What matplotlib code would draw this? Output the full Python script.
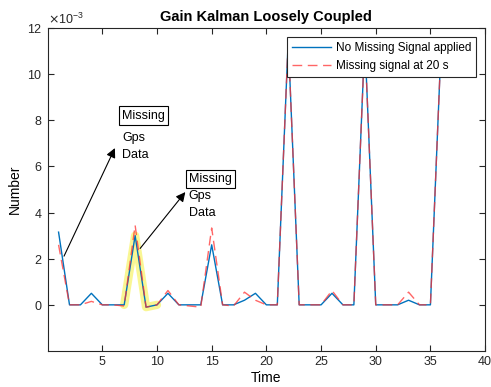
import matplotlib.pyplot as plt
from matplotlib.ticker import ScalarFormatter

plt.rcParams['font.family'] = ['Liberation Sans', 'DejaVu Sans']

# Dữ liệu (đơn vị 1e-3)
t = list(range(1, 37))
no_missing = [3.15, 0, 0, 0.5, 0, 0, 0, 3.0, -0.1, 0, 0.5, 0, 0, 0, 2.6, 0, 0, 0.2,
              0.5, 0, 0, 11.5, 0, 0, 0, 0.5, 0, 0, 11.5, 0, 0, 0, 0.2, 0, 0, 11.5]
missing_20 = [2.6, 0, 0, 0.15, 0, 0, -0.05, 3.45, -0.1, 0, 0.62, 0, -0.05, -0.1, 3.33, 0, -0.05, 0.55,
              0.2, 0, 0, 11.5, 0, 0, 0, 0.62, 0, 0, 11.5, 0, 0, 0, 0.55, 0, 0, 11.5]
hl_t = [7, 8, 9, 10]
hl_v = [0, 3.0, -0.1, 0]

fig = plt.figure(figsize=(4.91, 3.87), dpi=100)
ax = fig.add_axes([0.097, 0.093, 0.891, 0.835])

ax.plot(hl_t, [v * 1e-3 for v in hl_v], color='#F5F03A', linewidth=6, alpha=0.55,
        solid_capstyle='round', solid_joinstyle='round')
ax.plot(t, [v * 1e-3 for v in no_missing], color='#0072BD', linewidth=1,
        label='No Missing Signal applied')
ax.plot(t, [v * 1e-3 for v in missing_20], color='#FF3333', linewidth=1,
        linestyle=(0, (7, 4)), alpha=0.75, label='Missing signal at 20 s')

# Chú thích "Missing Gps Data"
ax.annotate('', xy=(6.26, 6.9e-3), xytext=(1.39, 2.0e-3),
            arrowprops=dict(arrowstyle='-|>', color='black', lw=0.8, mutation_scale=14))
ax.annotate('', xy=(12.75, 4.98e-3), xytext=(8.3, 2.35e-3),
            arrowprops=dict(arrowstyle='-|>', color='black', lw=0.8, mutation_scale=14))
box = dict(boxstyle='square,pad=0.25', fc='white', ec='black', lw=0.8)
ax.text(6.8, 8.2e-3, 'Missing', fontsize=9, va='center', bbox=box)
ax.text(6.8, 7.23e-3, 'Gps', fontsize=9, va='center')
ax.text(6.8, 6.49e-3, 'Data', fontsize=9, va='center')
ax.text(12.9, 5.45e-3, 'Missing', fontsize=9, va='center', bbox=box)
ax.text(12.9, 4.72e-3, 'Gps', fontsize=9, va='center')
ax.text(12.9, 3.98e-3, 'Data', fontsize=9, va='center')

ax.set_xlim(0, 40)
ax.set_ylim(-2e-3, 12e-3)
ax.set_xticks(range(5, 41, 5))
ax.set_yticks([i * 1e-3 for i in range(0, 13, 2)])
fmt = ScalarFormatter(useMathText=True)
fmt.set_powerlimits((-3, -3))
ax.yaxis.set_major_formatter(fmt)
ax.tick_params(direction='in', top=True, right=True, labelsize=9, colors='#262626', length=4)
for s in ax.spines.values():
    s.set_color('#262626')
ax.yaxis.get_offset_text().set_fontsize(9)

ax.set_title('Gain Kalman Loosely Coupled', fontsize=10.5, fontweight='bold', pad=5)
ax.set_xlabel('Time', fontsize=10, labelpad=2)
ax.set_ylabel('Number', fontsize=10)

leg = ax.legend(loc='upper right', fontsize=8.5, fancybox=False, edgecolor='#262626',
                framealpha=1, handlelength=3.3, handletextpad=0.4, borderaxespad=0.8)
leg.get_frame().set_linewidth(0.8)

fig.savefig('out.png')
